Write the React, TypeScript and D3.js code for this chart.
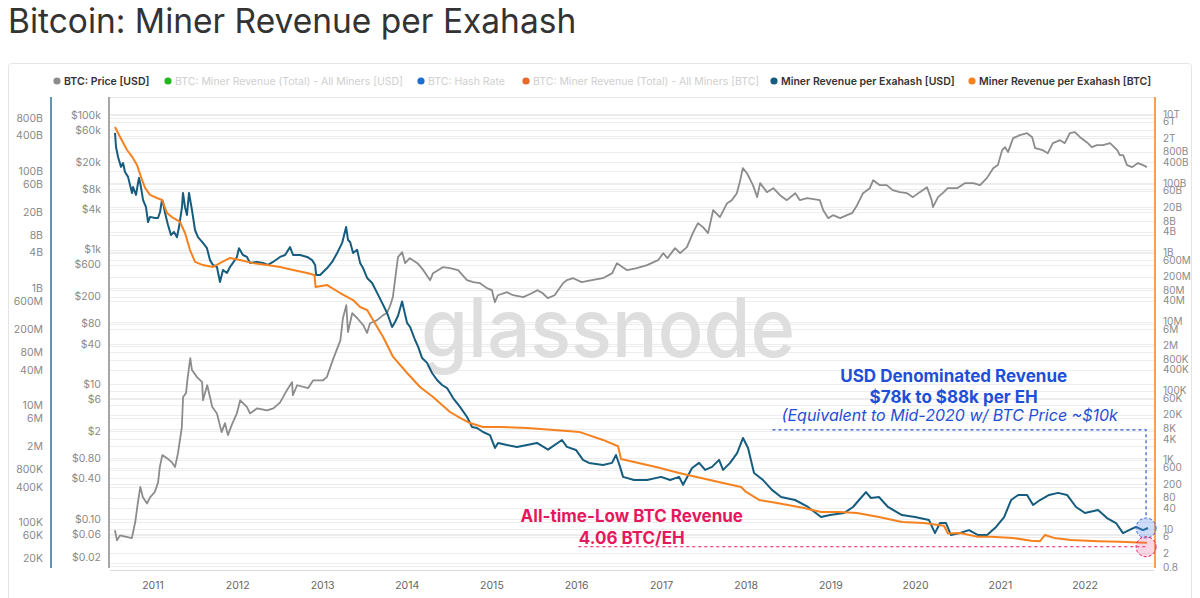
import React from 'react';
import * as d3 from 'd3';

// ---------- DATA (decimal year, value) ----------
const priceUSD: [number, number][] = [
  [2010.55,0.068],[2010.575,0.048],[2010.61,0.057],[2010.75,0.052],[2010.79,0.09],[2010.82,0.17],[2010.85,0.30],[2010.88,0.21],[2010.93,0.17],[2010.965,0.21],
  [2011.02,0.25],[2011.06,0.35],[2011.08,0.59],[2011.11,0.89],[2011.165,0.80],[2011.22,0.70],[2011.26,0.59],[2011.295,0.95],[2011.34,2.3],[2011.355,6.5],
  [2011.39,7.4],[2011.41,12.8],[2011.44,24.5],[2011.46,16.3],[2011.52,12.8],[2011.58,10.8],[2011.59,5.8],[2011.64,9.7],[2011.70,4.6],[2011.755,3.7],
  [2011.81,1.95],[2011.85,2.65],[2011.885,1.76],[2011.93,2.5],[2011.99,3.7],[2012.03,5.8],[2012.11,4.6],[2012.145,3.7],[2012.23,4.4],[2012.345,4.1],
  [2012.42,4.4],[2012.50,5.4],[2012.58,8.2],[2012.64,10.8],[2012.65,6.9],[2012.70,9.7],[2012.83,8.8],[2012.89,11.5],[2013.005,11.5],[2013.05,12.8],
  [2013.12,22.9],[2013.21,45],[2013.24,96],[2013.28,150],[2013.30,60],[2013.35,114],[2013.41,96],[2013.48,76],[2013.525,58],[2013.56,81],
  [2013.645,90],[2013.715,107],[2013.76,114],[2013.80,150],[2013.83,198],[2013.89,776],[2013.94,920],[2013.975,632],[2014.03,750],[2014.12,632],
  [2014.19,498],[2014.27,353],[2014.305,449],[2014.42,551],[2014.505,533],[2014.60,498],[2014.705,353],[2014.78,330],[2014.86,319],[2014.94,269],
  [2015.00,251],[2015.035,166],[2015.07,211],[2015.18,234],[2015.25,211],[2015.37,198],[2015.47,226],[2015.54,251],[2015.60,226],[2015.66,191],
  [2015.74,211],[2015.84,319],[2015.885,353],[2015.96,378],[2016.06,330],[2016.18,353],[2016.31,378],[2016.42,449],[2016.475,632],[2016.595,498],
  [2016.71,533],[2016.83,590],[2016.96,700],[2017.02,890],[2017.07,750],[2017.16,1057],[2017.22,890],[2017.30,1094],[2017.37,1766],[2017.43,2485],
  [2017.49,2168],[2017.55,1766],[2017.61,3873],[2017.69,3050],[2017.775,4920],[2017.83,5460],[2017.89,6930],[2017.93,10800],[2017.96,16300],[2018.01,13700],
  [2018.08,9120],[2018.13,6050],[2018.165,9770],[2018.245,7180],[2018.32,8230],[2018.40,6470],[2018.48,5460],[2018.58,6930],[2018.635,5460],[2018.72,5850],
  [2018.87,5460],[2018.91,3873],[2018.97,2950],[2019.025,3270],[2019.11,2950],[2019.19,3270],[2019.25,3500],[2019.31,4600],[2019.38,6930],[2019.46,8230],
  [2019.50,10800],[2019.58,9120],[2019.66,9120],[2019.73,7690],[2019.815,7180],[2019.90,6930],[2019.97,6050],[2020.05,7180],[2020.135,8510],[2020.19,5460],
  [2020.205,4300],[2020.265,6050],[2020.32,6930],[2020.38,8230],[2020.49,8230],[2020.58,9770],[2020.68,9770],[2020.76,9120],[2020.84,11600],[2020.915,16300],
  [2020.97,18100],[2021.02,30200],[2021.055,33500],[2021.09,28200],[2021.15,45500],[2021.23,50400],[2021.315,54000],[2021.375,47100],[2021.41,32300],[2021.50,30200],
  [2021.56,27200],[2021.62,38400],[2021.705,42500],[2021.76,38400],[2021.82,54000],[2021.88,55900],[2021.94,47100],[2022.02,39700],[2022.08,33500],[2022.14,35800],
  [2022.21,35800],[2022.295,38400],[2022.38,30200],[2022.41,25500],[2022.45,25500],[2022.495,18100],[2022.555,16900],[2022.625,19400],[2022.685,18100],[2022.73,16900]
];

const revPerEhUSD: [number, number][] = [
  [2010.551,4.44e11],[2010.563,2.56e11],[2010.587,1.73e11],[2010.622,1.17e11],[2010.646,1.36e11],[2010.669,9.6e10],[2010.705,7.9e10],[2010.752,4.2e10],[2010.764,5.3e10],[2010.799,3.9e10],
  [2010.823,6.2e10],[2010.835,7.6e10],[2010.858,5.3e10],[2010.882,3.2e10],[2010.917,2.4e10],[2010.941,1.34e10],[2010.965,1.64e10],[2011.024,1.57e10],[2011.059,1.57e10],[2011.083,1.99e10],
  [2011.106,3.2e10],[2011.118,2.95e10],[2011.142,1.91e10],[2011.177,1.19e10],[2011.212,8.05e9],[2011.248,9.1e9],[2011.283,7.4e9],[2011.307,1.10e10],[2011.342,2.4e10],[2011.354,4.2e10],
  [2011.378,2.4e10],[2011.401,1.77e10],[2011.425,4.2e10],[2011.460,2.15e10],[2011.496,9.8e9],[2011.531,7.4e9],[2011.590,5.9e9],[2011.637,4.8e9],[2011.673,3.0e9],[2011.708,2.48e9],
  [2011.755,2.29e9],[2011.791,1.27e9],[2011.826,2.04e9],[2011.873,1.81e9],[2011.909,2.29e9],[2011.944,2.69e9],[2011.991,3.4e9],[2012.015,4.8e9],[2012.062,3.67e9],[2012.109,3.4e9],
  [2012.145,2.69e9],[2012.227,2.79e9],[2012.298,2.69e9],[2012.357,2.48e9],[2012.416,2.79e9],[2012.499,3.4e9],[2012.558,3.67e9],[2012.617,5.0e9],[2012.652,3.67e9],[2012.735,3.67e9],
  [2012.818,3.4e9],[2012.877,3.0e9],[2012.912,2.48e9],[2012.924,1.67e9],[2012.971,1.67e9],[2013.054,2.2e9],[2013.113,2.79e9],[2013.172,3.97e9],[2013.231,5.9e9],[2013.278,1.10e10],
  [2013.301,6.6e9],[2013.325,6.1e9],[2013.360,3.97e9],[2013.408,4.5e9],[2013.443,2.69e9],[2013.478,2.2e9],[2013.526,1.49e9],[2013.585,1.22e9],[2013.644,8.3e8],[2013.703,5.6e8],
  [2013.762,3.76e8],[2013.821,2.17e8],[2013.856,2.64e8],[2013.892,3.4e8],[2013.939,5.9e8],[2013.998,2.54e8],[2014.033,2.17e8],[2014.092,1.30e8],[2014.128,1.0e8],[2014.175,6.4e7],
  [2014.234,5.3e7],[2014.293,3.56e7],[2014.352,2.7e7],[2014.411,2.22e7],[2014.470,1.97e7],[2014.541,1.33e7],[2014.623,9.4e6],[2014.706,6.3e6],[2014.765,4.27e6],[2014.824,4.1e6],
  [2014.895,3.5e6],[2014.977,3.1e6],[2015.036,1.87e6],[2015.072,2.28e6],[2015.178,2.1e6],[2015.296,1.95e6],[2015.414,2.1e6],[2015.532,2.28e6],[2015.662,1.75e6],[2015.827,2.56e6],
  [2015.886,1.95e6],[2015.992,1.73e6],[2016.075,1.17e6],[2016.146,1.04e6],[2016.311,9.6e5],[2016.417,1.04e6],[2016.464,1.42e6],[2016.512,8.9e5],[2016.547,6.0e5],[2016.677,5.3e5],
  [2016.830,5.3e5],[2016.995,6.0e5],[2017.102,5.3e5],[2017.208,6.0e5],[2017.255,4.4e5],[2017.361,8.5e5],[2017.444,1.04e6],[2017.515,7.9e5],[2017.597,8.9e5],[2017.680,1.17e6],
  [2017.727,7.9e5],[2017.810,1.04e6],[2017.893,1.53e6],[2017.963,2.77e6],[2018.022,1.87e6],[2018.093,7.0e5],[2018.199,5.3e5],[2018.305,3.6e5],[2018.412,2.72e5],[2018.577,2.42e5],
  [2018.730,1.84e5],[2018.884,1.24e5],[2018.990,1.34e5],[2019.156,1.45e5],[2019.262,1.84e5],[2019.333,2.42e5],[2019.415,3.3e5],[2019.474,2.62e5],[2019.568,2.72e5],[2019.675,1.84e5],
  [2019.840,1.34e5],[2019.993,1.24e5],[2020.159,1.10e5],[2020.229,6.6e4],[2020.288,9.8e4],[2020.359,9.8e4],[2020.418,6.1e4],[2020.524,6.6e4],[2020.630,7.4e4],[2020.737,6.1e4],
  [2020.843,6.1e4],[2020.949,8.4e4],[2021.044,1.24e5],[2021.126,2.42e5],[2021.209,2.95e5],[2021.315,2.95e5],[2021.386,1.99e5],[2021.468,2.42e5],[2021.575,2.95e5],[2021.681,3.2e5],
  [2021.787,2.95e5],[2021.893,1.84e5],[2021.999,1.45e5],[2022.153,1.64e5],[2022.259,1.19e5],[2022.365,9.8e4],[2022.448,6.6e4],[2022.519,7.4e4],[2022.601,8.4e4],[2022.684,7.4e4],
  [2022.743,8.05e4]
];

const revPerEhBTC: [number, number][] = [
  [2010.551,4.2e12],[2010.611,2.16e12],[2010.693,9.1e11],[2010.764,5.3e11],[2010.811,3.36e11],[2010.870,1.24e11],[2010.906,7.3e10],[2010.965,4.6e10],[2011.047,3.73e10],[2011.106,3.27e10],
  [2011.165,1.38e10],[2011.224,1.05e10],[2011.319,7.6e9],[2011.378,3.64e9],[2011.437,1.17e9],[2011.496,5.3e8],[2011.590,4.3e8],[2011.708,3.8e8],[2011.791,4.9e8],[2011.909,6.9e8],
  [2012.027,6.0e8],[2012.180,4.9e8],[2012.345,4.3e8],[2012.499,3.8e8],[2012.652,3.1e8],[2012.818,2.54e8],[2012.905,2.22e8],[2012.917,1.0e8],[2013.054,1.14e8],[2013.207,6.7e7],
  [2013.360,4.2e7],[2013.443,2.64e7],[2013.526,2.16e7],[2013.596,1.11e7],[2013.715,3.6e6],[2013.833,9.5e5],[2013.998,3.27e5],[2014.151,1.29e5],[2014.305,6.6e4],[2014.505,2.44e4],
  [2014.623,1.64e4],[2014.741,1.17e4],[2014.895,9.0e3],[2015.095,9.0e3],[2015.414,8.4e3],[2015.733,7.4e3],[2016.039,6.4e3],[2016.311,3.8e3],[2016.488,2.5e3],[2016.523,1.07e3],
  [2016.677,875],[2016.936,628],[2017.208,421],[2017.467,302],[2017.727,216],[2017.940,166],[2017.999,119],[2018.152,70],[2018.365,57],[2018.683,41],
  [2018.884,31.4],[2019.096,31.4],[2019.309,29.4],[2019.568,22.5],[2019.840,16.1],[2020.099,15.1],[2020.335,12.5],[2020.382,7.5],[2020.524,7.8],[2020.737,6.0],
  [2020.890,6.0],[2021.150,5.6],[2021.362,4.6],[2021.468,4.5],[2021.527,6.8],[2021.633,5.6],[2021.834,4.9],[2022.153,4.5],[2022.413,4.3],[2022.625,4.15],
  [2022.731,4.06]
];

const yearTicks = [2011, 2012, 2013, 2014, 2015, 2016, 2017, 2018, 2019, 2020, 2021, 2022];
const priceTicks = [100000, 60000, 20000, 8000, 4000, 1000, 600, 200, 80, 40, 10, 6, 2, 0.8, 0.4, 0.1, 0.06, 0.02];
const leftTicks = [8e11, 4e11, 1e11, 6e10, 2e10, 8e9, 4e9, 1e9, 6e8, 2e8, 8e7, 4e7, 1e7, 6e6, 2e6, 8e5, 4e5, 1e5, 6e4, 2e4];
const rightTicks = [1e13, 6e12, 2e12, 8e11, 4e11, 1e11, 6e10, 2e10, 8e9, 4e9, 1e9, 6e8, 2e8, 8e7, 4e7, 1e7, 6e6, 2e6, 8e5, 4e5, 1e5, 6e4, 2e4, 8e3, 4e3, 1e3, 600, 200, 80, 40, 10, 6, 2, 0.8];

const legendItems = [
  { label: 'BTC: Price [USD]', color: '#8c8c8c', active: true },
  { label: 'BTC: Miner Revenue (Total) - All Miners [USD]', color: '#1fb81f', active: false },
  { label: 'BTC: Hash Rate', color: '#1b6fd1', active: false },
  { label: 'BTC: Miner Revenue (Total) - All Miners [BTC]', color: '#e8682a', active: false },
  { label: 'Miner Revenue per Exahash [USD]', color: '#165c7e', active: true },
  { label: 'Miner Revenue per Exahash [BTC]', color: '#f5821f', active: true },
];
const legendX = [57, 168, 421, 526, 774, 972];

// annotation anchors (data coords)
const atlBTC = 4.06;
const usdNowEnd = 80500;
const annoStartPink = 2016.02;
const annoStartBlue = 2018.31;
const annoEnd = 2022.72;
const annoBlueLevel = 3.8e6;

// ---------- helpers ----------
const yearToDate = (y: number) => {
  const yr = Math.floor(y);
  const s = Date.UTC(yr, 0, 1), e = Date.UTC(yr + 1, 0, 1);
  return new Date(s + (y - yr) * (e - s));
};
const fmtSuffix = (v: number) => {
  if (v >= 1e12) return `${+(v / 1e12).toPrecision(3)}T`;
  if (v >= 1e9) return `${+(v / 1e9).toPrecision(3)}B`;
  if (v >= 1e6) return `${+(v / 1e6).toPrecision(3)}M`;
  if (v >= 1e3) return `${+(v / 1e3).toPrecision(3)}K`;
  return `${v}`;
};
const fmtPrice = (v: number) => {
  if (v >= 1000) return `$${v / 1000}k`;
  if (v >= 1) return `$${v}`;
  return `$${v.toFixed(2)}`;
};

const FONT = "Inter, 'Noto Sans', sans-serif";

export default function App() {
  const top = 100, bottom = 566;
  const x = d3.scaleUtc().domain([yearToDate(2010.551), yearToDate(2022.743)]).range([115, 1148]);
  const yPrice = d3.scaleLog().domain([0.02, 168000]).range([bottom, top]);
  const yLeft = d3.scaleLog().domain([18100, 1.62e12]).range([bottom, top]);
  const yRight = d3.scaleLog().domain([0.863, 2.54e13]).range([bottom, top]);

  const xl = (d: [number, number]) => x(yearToDate(d[0]));
  const linePrice = d3.line<[number, number]>().x(xl).y(d => yPrice(d[1]));
  const lineUSD = d3.line<[number, number]>().x(xl).y(d => yLeft(d[1]));
  const lineBTC = d3.line<[number, number]>().x(xl).y(d => yRight(d[1]));

  const plotL = 110, plotR = 1154;
  const gridYs = Array.from(new Set([
    ...priceTicks.map(v => Math.round(yPrice(v))),
    ...leftTicks.map(v => Math.round(yLeft(v))),
    ...rightTicks.map(v => Math.round(yRight(v))),
  ])).filter(y => y >= top && y <= bottom);

  const xEnd = x(yearToDate(annoEnd));
  const yPink = yRight(atlBTC);
  const yBlueC = yLeft(usdNowEnd);
  const yBlueH = yLeft(annoBlueLevel);
  const blueCx = x(yearToDate(2020.45));
  const pinkCx = x(yearToDate(2016.65));

  return (
    <svg width={1200} height={598} style={{ position: 'absolute', left: 0, top: 0, background: '#fff' }} fontFamily={FONT}>
      <text x={8} y={33} fontSize={33.5} fill="#333" fontWeight={400}>Bitcoin: Miner Revenue per Exahash</text>
      <rect x={8.5} y={63.5} width={1183} height={560} rx={3} fill="#fff" stroke="#e4e4e4" />

      {/* legend */}
      {legendItems.map((it, i) => (
        <g key={it.label}>
          <circle cx={legendX[i]} cy={81} r={3.6} fill={it.color} />
          <text x={legendX[i] + 7} y={84.5} fontSize={10.5} fontWeight={it.active ? 600 : 400} fill={it.active ? '#333' : '#cfcfcf'}>{it.label}</text>
        </g>
      ))}

      {/* grid */}
      <line x1={plotL} x2={plotR} y1={97.5} y2={97.5} stroke="#e6e6e6" />
      {gridYs.map(y => (
        <line key={y} x1={plotL} x2={plotR} y1={y + 0.5} y2={y + 0.5} stroke="#ededed" strokeWidth={1} />
      ))}
      <line x1={plotL} x2={plotR} y1={570.5} y2={570.5} stroke="#dadada" />

      {/* watermark */}
      <text x={421} y={357} fontSize={82} fontWeight={500} fill="#dedede" textLength={374} lengthAdjust="spacingAndGlyphs">glassnode</text>

      {/* axes lines */}
      <line x1={51} x2={51} y1={97} y2={568} stroke="#2f6f96" strokeWidth={1.5} />
      <line x1={109} x2={109} y1={97} y2={568} stroke="#8a8a8a" strokeWidth={1.5} />
      <line x1={1155} x2={1155} y1={97} y2={568} stroke="#f5821f" strokeWidth={1.5} />

      {leftTicks.map(v => (
        <text key={'l' + v} x={43} y={Math.min(yLeft(v), 558)} dy="0.35em" textAnchor="end" fontSize={10.5} fill="#8a8a8a">{fmtSuffix(v)}</text>
      ))}
      {priceTicks.map(v => (
        <text key={'p' + v} x={101} y={Math.min(yPrice(v), 557)} dy="0.35em" textAnchor="end" fontSize={10.5} fill="#8a8a8a">{fmtPrice(v)}</text>
      ))}
      {rightTicks.map(v => (
        <text key={'r' + v} x={1163} y={yRight(v)} dy="0.35em" textAnchor="start" fontSize={10} fill="#8a8a8a">{fmtSuffix(v)}</text>
      ))}
      {yearTicks.map(yr => (
        <text key={yr} x={x(new Date(Date.UTC(yr, 0, 1)))} y={589} textAnchor="middle" fontSize={10.5} fill="#666">{yr}</text>
      ))}

      {/* series */}
      <path d={linePrice(priceUSD) || ''} fill="none" stroke="#8c8c8c" strokeWidth={1.8} strokeLinejoin="round" />
      <path d={lineUSD(revPerEhUSD) || ''} fill="none" stroke="#165c7e" strokeWidth={2} strokeLinejoin="round" />
      <path d={lineBTC(revPerEhBTC) || ''} fill="none" stroke="#f5821f" strokeWidth={2} strokeLinejoin="round" />

      {/* annotations */}
      <path d={`M${x(yearToDate(annoStartBlue))},${yBlueH} H${xEnd} V${yBlueC - 10}`} fill="none" stroke="#2d56c9" strokeWidth={1.2} strokeDasharray="3,3" />
      <line x1={x(yearToDate(annoStartPink))} x2={xEnd} y1={yPink + 4} y2={yPink + 4} stroke="#e5185d" strokeWidth={1.2} strokeDasharray="3,3" />
      <circle cx={xEnd} cy={yBlueC} r={10} fill="rgba(90,140,240,0.3)" stroke="#3a66d6" strokeDasharray="3,2" />
      <circle cx={xEnd} cy={yPink + 4} r={10} fill="rgba(240,90,150,0.25)" stroke="#e5185d" strokeDasharray="3,2" />

      <text x={blueCx} y={382} textAnchor="middle" fontSize={17} fontWeight={700} fill="#1f4fd6">USD Denominated Revenue</text>
      <text x={blueCx} y={403} textAnchor="middle" fontSize={17} fontWeight={700} fill="#1f4fd6">$78k to $88k per EH</text>
      <text x={blueCx - 4} y={421} textAnchor="middle" fontSize={16} fontStyle="italic" fill="#1f4fd6">(Equivalent to Mid-2020 w/ BTC Price ~$10k</text>
      <text x={pinkCx} y={522} textAnchor="middle" fontSize={17} fontWeight={700} fill="#e5185d">All-time-Low BTC Revenue</text>
      <text x={pinkCx} y={544} textAnchor="middle" fontSize={17} fontWeight={700} fill="#e5185d">4.06 BTC/EH</text>
    </svg>
  );
}
